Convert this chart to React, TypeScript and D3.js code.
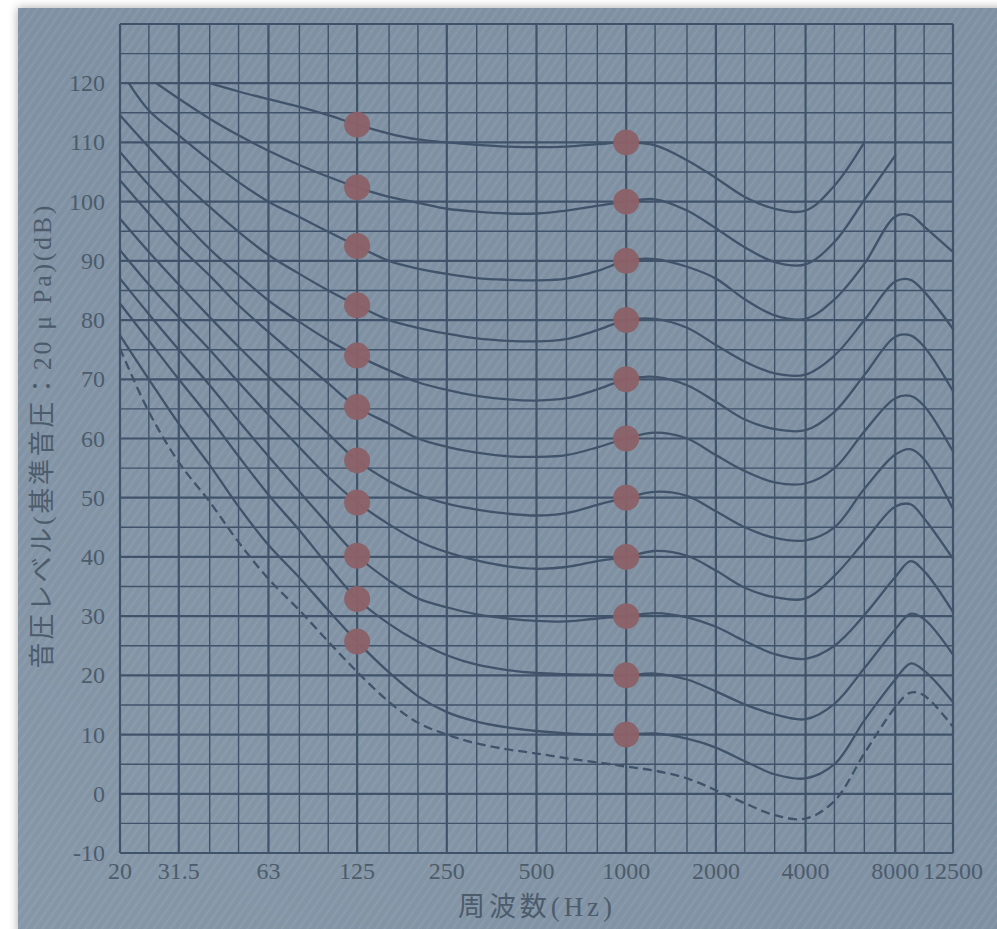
import * as d3 from "d3";

// 1/3-octave band centres used for the data (9000 added to hold the HF peak)
const bands = [20, 25, 31.5, 40, 50, 63, 80, 100, 125, 160, 200, 250, 315, 400, 500, 630, 800, 1000, 1250, 1600, 2000, 2500, 3150, 4000, 5000, 6300, 8000, 9000, 10000, 12500];
const gridFreqs = [20, 25, 31.5, 40, 50, 63, 80, 100, 125, 160, 200, 250, 315, 400, 500, 630, 800, 1000, 1250, 1600, 2000, 2500, 3150, 4000, 5000, 6300, 8000, 10000, 12500];
const octaveFreqs = [20, 31.5, 63, 125, 250, 500, 1000, 2000, 4000, 8000, 12500];
const xTicks = [20, 31.5, 63, 125, 250, 500, 1000, 2000, 4000, 8000, 12500];
const yTicks = [-10, 0, 10, 20, 30, 40, 50, 60, 70, 80, 90, 100, 110, 120];

// minimum audible field (dashed)
const maf = [75.2, 64.5, 56, 49.3, 42.5, 36.3, 31, 25.7, 20.6, 15.5, 12, 10, 8.5, 7.5, 6.8, 6, 5.3, 4.6, 3.9, 2.6, 0.6, -1.6, -3.6, -4.2, -1.2, 6.8, 14.6, 17.1, 16.6, 11.3];

const phon10 = [77.4, 70, 62.5, 55.5, 48.5, 42, 36.5, 31, 25.7, 20.5, 16.5, 13.8, 12.2, 11.2, 10.6, 10.2, 10, 10, 10.2, 9.3, 7.8, 5.5, 3.3, 2.6, 5, 12.4, 19.3, 22, 20.8, 15.5];
const phon20 = [82.8, 76.5, 70, 63.5, 57, 50.5, 44.5, 38.5, 32.9, 28.7, 25.7, 23.4, 21.8, 20.9, 20.4, 20.2, 20.1, 20, 20.3, 19.3, 17.3, 15.1, 13.4, 12.6, 15.2, 21.2, 27.8, 30.4, 29.5, 23.5];
const phon30 = [87, 81, 75, 69, 63, 57, 51, 45.5, 40.2, 36, 33, 31.5, 30.3, 29.6, 29.2, 29.1, 29.6, 30, 30.5, 29.8, 28.2, 25.8, 23.6, 22.8, 25, 30.2, 36.6, 39.3, 37.6, 30.7];
const phon40 = [91.8, 86, 80.5, 75, 69.5, 64, 58.5, 53.5, 49.2, 45.5, 42.7, 40.8, 39.4, 38.4, 38, 38.3, 39.3, 40, 41, 40.2, 37.7, 34.8, 33.2, 33, 36.8, 42.6, 48.5, 48.9, 46.5, 39.7];
const phon50 = [97.1, 91.5, 86, 80.5, 75.5, 70.5, 65.5, 60.8, 56.3, 52.8, 50.5, 49, 48, 47.3, 47, 47.4, 48.8, 50, 51, 50.3, 47.7, 45, 43.2, 42.8, 45, 51.5, 57.3, 58.2, 56.5, 48.1];
const phon60 = [103.6, 98, 92.5, 87.5, 82.5, 78, 73.5, 69.3, 65.3, 62.5, 60, 58.6, 57.6, 57, 56.9, 57.2, 58.5, 60, 61, 60, 57.2, 54.5, 52.6, 52.4, 55, 61.2, 66.8, 67.2, 65.5, 57.8];
const phon70 = [108.4, 102.8, 97.4, 92, 87.6, 83.3, 79.7, 76.6, 74, 71.5, 69.5, 68.2, 67.2, 66.6, 66.4, 66.8, 68.3, 70, 70.4, 69, 66.2, 63.2, 61.6, 61.4, 64.5, 70.7, 77.2, 77.4, 75.5, 68];
const phon80 = [114.6, 109.2, 103.9, 99.1, 94.9, 91, 87.8, 85, 82.5, 80, 78.7, 77.7, 76.9, 76.5, 76.4, 76.8, 78.3, 80, 80.2, 78.7, 75.8, 73, 71, 70.8, 74, 80, 86.5, 86.8, 84.8, 78.5];
const phon90 = [null, 115.4, 111.2, 107, 103.3, 100, 97.4, 94.9, 92.5, 90, 88.7, 87.8, 87.1, 86.8, 86.7, 87, 88.3, 90, 90.3, 89, 87, 83.5, 80.8, 80.2, 83.5, 89.5, 97.5, 97.7, 95.8, 91.5];
const phon100 = [null, null, 117.4, 114, 111.2, 108.6, 106.2, 104.2, 102.4, 100.8, 99.8, 98.8, 98.3, 98, 98, 98.5, 99.3, 100, 100.4, 98.5, 95.5, 92.3, 89.8, 89.4, 93.2, 100.3, 107.8, null, null, null];
const phon110 = [null, null, null, 120, 118.6, 117.3, 116, 114.6, 113, 111.5, 110.5, 110, 109.6, 109.3, 109.2, 109.3, 109.7, 110, 109.5, 107, 104, 100.8, 98.8, 98.5, 102.7, 110, null, null, null, null];

// curves that start between bands, on the 120 dB line: [freq, level]
const leadIn90 = [21.4, 120];
const leadIn100 = [26.5, 120];

const contours = [phon10, phon20, phon30, phon40, phon50, phon60, phon70, phon80, phon90, phon100, phon110];
const leadIns: Record<number, number[]> = { 8: leadIn90, 9: leadIn100 };
const dotFreqs = [125, 1000];

const W = 997;
const H = 929;
const left = 120;
const right = 953;
const top = 24;
const bottom = 853;

const ink = "#41536a";
const textColor = "#4d5c6c";
const bg = "#8092a4";
const font = "'Liberation Serif', 'Noto Sans CJK JP', serif";

export default function App() {
  const x = d3.scaleLog().domain([20, 12500]).range([left, right]);
  const y = d3.scaleLinear().domain([-10, 130]).range([bottom, top]);

  const line = d3
    .line<number[]>()
    .x((d) => x(d[0]))
    .y((d) => y(d[1]))
    .curve(d3.curveCatmullRom.alpha(0.5));

  const toPoints = (levels: (number | null)[], lead?: number[]) => {
    const pts: number[][] = lead ? [lead] : [];
    levels.forEach((v, i) => {
      if (v !== null) pts.push([bands[i], v]);
    });
    return pts;
  };

  const hLines = d3.range(-10, 131, 5);

  return (
    <svg width={W} height={H} style={{ position: "absolute", left: 0, top: 0 }}>
      <defs>
        <filter id="shadow" x="-5%" y="-5%" width="110%" height="110%">
          <feDropShadow dx="0" dy="0" stdDeviation="5" floodColor="#000" floodOpacity="0.35" />
        </filter>
        <pattern id="hatch" width="7" height="7" patternUnits="userSpaceOnUse" patternTransform="rotate(35)">
          <line x1="0" y1="0" x2="0" y2="7" stroke="#ffffff" strokeOpacity="0.08" strokeWidth="2" />
          <line x1="4" y1="0" x2="4" y2="7" stroke="#2e3d4d" strokeOpacity="0.05" strokeWidth="1" />
        </pattern>
        <linearGradient id="glow" x1="0" y1="1" x2="1" y2="0">
          <stop offset="0" stopColor="#ffffff" stopOpacity="0.06" />
          <stop offset="0.5" stopColor="#ffffff" stopOpacity="0" />
        </linearGradient>
      </defs>

      <rect x={0} y={0} width={W} height={H} fill="#ffffff" />
      <rect x={18} y={8} width={W} height={H} fill={bg} filter="url(#shadow)" />
      <rect x={18} y={8} width={W} height={H} fill="url(#hatch)" />
      <rect x={18} y={8} width={W} height={H} fill="url(#glow)" />

      {/* grid */}
      <g stroke={ink} fill="none">
        {hLines.map((v) => (
          <line
            key={"h" + v}
            x1={left}
            x2={right}
            y1={y(v)}
            y2={y(v)}
            strokeWidth={v % 10 === 0 || v === 130 ? 2.2 : 1.4}
          />
        ))}
        {gridFreqs.map((f) => (
          <line
            key={"v" + f}
            x1={x(f)}
            x2={x(f)}
            y1={top}
            y2={bottom}
            strokeWidth={octaveFreqs.includes(f) ? 2.2 : 1.4}
          />
        ))}
      </g>

      {/* equal loudness contours */}
      <g fill="none" stroke={ink} strokeWidth={2.3} strokeLinecap="round">
        {contours.map((c, i) => (
          <path key={"c" + i} d={line(toPoints(c, leadIns[i])) || ""} />
        ))}
        <path d={line(toPoints(maf)) || ""} strokeDasharray="9 5" strokeLinecap="butt" />
      </g>

      {/* marked points */}
      <g fill="#8b6168" fillOpacity={0.97}>
        {dotFreqs.map((f) =>
          contours.map((c, i) => {
            const v = c[bands.indexOf(f)] as number;
            return <circle key={f + "-" + i} cx={x(f)} cy={y(v)} r={13} />;
          })
        )}
      </g>

      {/* axis labels */}
      <g fill={textColor} fontFamily={font} fontSize={24}>
        {yTicks.map((t) => (
          <text key={"yt" + t} x={105} y={y(t)} textAnchor="end" dominantBaseline="central">
            {t}
          </text>
        ))}
        {xTicks.map((t) => (
          <text key={"xt" + t} x={x(t)} y={871} textAnchor="middle" dominantBaseline="central">
            {t}
          </text>
        ))}
      </g>
      <text
        x={535}
        y={907}
        textAnchor="middle"
        dominantBaseline="central"
        fill={textColor}
        fontFamily={font}
        fontSize={27}
        textLength={154}
        lengthAdjust="spacing"
      >
        周波数(Hz)
      </text>
      <text
        transform="translate(42,437) rotate(-90)"
        textAnchor="middle"
        dominantBaseline="central"
        fill={textColor}
        fontFamily={font}
        fontSize={26}
        textLength={463}
        lengthAdjust="spacing"
      >
        音圧レベル(基準音圧：20 μ Pa)(dB)
      </text>
    </svg>
  );
}
